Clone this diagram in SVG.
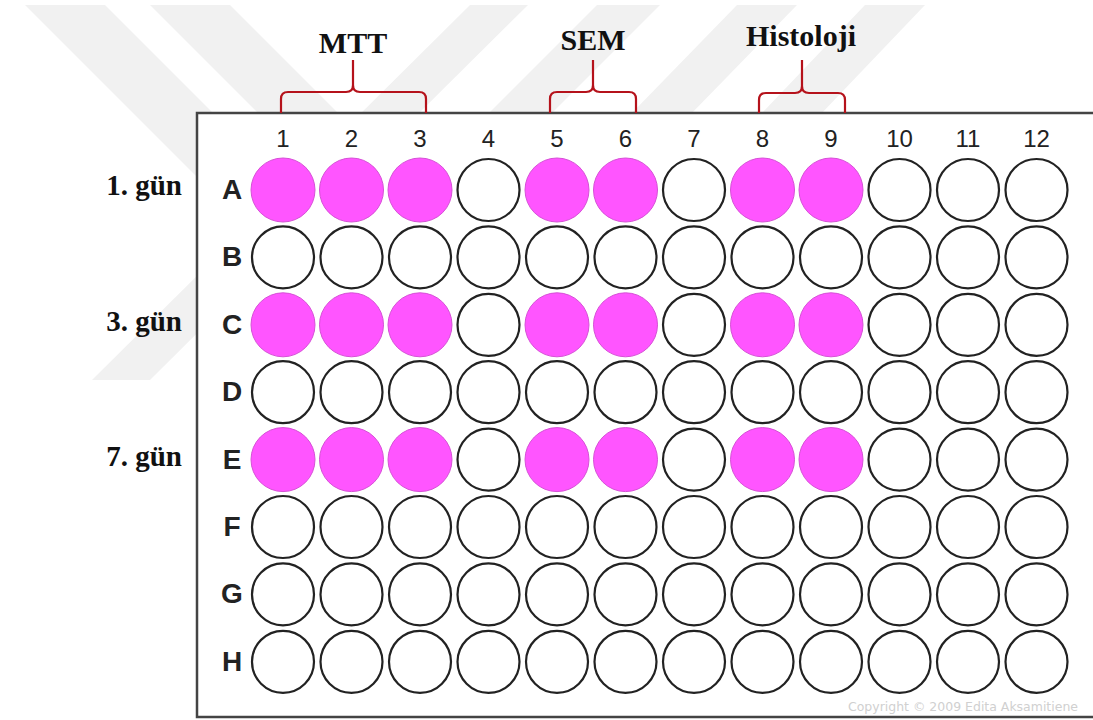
<svg xmlns="http://www.w3.org/2000/svg" width="1093" height="720" viewBox="0 0 1093 720">
<style>
.wm{fill:#f1f1f1}
.well{fill:#fff;stroke:#222;stroke-width:2.2}
.on{fill:#ff55ff;stroke:#d650d6;stroke-width:1}
.col{font-family:"Liberation Sans",Arial,sans-serif;font-size:24px;fill:#222;text-anchor:middle}
.row{font-family:"Liberation Sans",Arial,sans-serif;font-size:28px;font-weight:bold;fill:#222;text-anchor:middle}
.day{font-family:"Liberation Serif","Times New Roman",serif;font-size:29px;font-weight:bold;fill:#111;text-anchor:end}
.grp{font-family:"Liberation Serif","Times New Roman",serif;font-size:30px;font-weight:bold;fill:#111;text-anchor:middle}
.br{fill:none;stroke:#b5121b;stroke-width:2.2}
</style>
<rect width="1093" height="720" fill="#fff"/>
<g id="watermark">
<polygon class="wm" points="25,5 105,5 335,235 255,235"/>
<polygon class="wm" points="150,5 230,5 350,125 270,125"/>
<polygon class="wm" points="470,5 528,5 150,380 92,380"/>
<polygon class="wm" points="597,5 660,5 545,120 482,120"/>
<polygon class="wm" points="737,5 797,5 690,115 630,115"/>
<polygon class="wm" points="865,5 925,5 820,115 760,115"/>
</g>
<g id="plate">
<rect x="197" y="113" width="910" height="604" fill="#fff" stroke="#444" stroke-width="2.5"/>
</g>
<g id="brackets">
<path class="br" d="M281,113 V99 Q281,92 288,92 H346 Q353,92 353,85 V60 M353,85 Q353,92 360,92 H419 Q426,92 426,99 V113"/>
<path class="br" d="M550,113 V99 Q550,92 557,92 H586 Q593,92 593,85 V60 M593,85 Q593,92 600,92 H629 Q636,92 636,99 V113"/>
<path class="br" d="M759,113 V100 Q759,93 766,93 H795 Q802,93 802,86 V60 M802,86 Q802,93 809,93 H838 Q845,93 845,100 V113"/>
</g>
<g id="group-labels">
<text class="grp" x="353" y="53">MTT</text>
<text class="grp" x="593" y="50">SEM</text>
<text class="grp" x="801" y="46">Histoloji</text>
</g>
<g id="day-labels">
<text class="day" x="182" y="195">1. gün</text>
<text class="day" x="182" y="331">3. gün</text>
<text class="day" x="182" y="466">7. gün</text>
</g>
<g id="column-numbers">
<text class="col" x="283" y="147">1</text>
<text class="col" x="351.5" y="147">2</text>
<text class="col" x="420" y="147">3</text>
<text class="col" x="488.5" y="147">4</text>
<text class="col" x="557" y="147">5</text>
<text class="col" x="625.5" y="147">6</text>
<text class="col" x="694" y="147">7</text>
<text class="col" x="762.5" y="147">8</text>
<text class="col" x="831" y="147">9</text>
<text class="col" x="899.5" y="147">10</text>
<text class="col" x="968" y="147">11</text>
<text class="col" x="1036.5" y="147">12</text>
</g>
<g id="row-letters">
<text class="row" x="232" y="199">A</text>
<text class="row" x="232" y="266.4">B</text>
<text class="row" x="232" y="333.8">C</text>
<text class="row" x="232" y="401.2">D</text>
<text class="row" x="232" y="468.6">E</text>
<text class="row" x="232" y="536">F</text>
<text class="row" x="232" y="603.4">G</text>
<text class="row" x="232" y="670.8">H</text>
</g>
<defs>
<g id="emptyrow">
<circle class="well" cx="283" cy="0" r="31"/>
<circle class="well" cx="351.5" cy="0" r="31"/>
<circle class="well" cx="420" cy="0" r="31"/>
<circle class="well" cx="488.5" cy="0" r="31"/>
<circle class="well" cx="557" cy="0" r="31"/>
<circle class="well" cx="625.5" cy="0" r="31"/>
<circle class="well" cx="694" cy="0" r="31"/>
<circle class="well" cx="762.5" cy="0" r="31"/>
<circle class="well" cx="831" cy="0" r="31"/>
<circle class="well" cx="899.5" cy="0" r="31"/>
<circle class="well" cx="968" cy="0" r="31"/>
<circle class="well" cx="1036.5" cy="0" r="31"/>
</g>
<g id="fullrow">
<circle class="on" cx="283" cy="0" r="32"/>
<circle class="on" cx="351.5" cy="0" r="32"/>
<circle class="on" cx="420" cy="0" r="32"/>
<circle class="well" cx="488.5" cy="0" r="31"/>
<circle class="on" cx="557" cy="0" r="32"/>
<circle class="on" cx="625.5" cy="0" r="32"/>
<circle class="well" cx="694" cy="0" r="31"/>
<circle class="on" cx="762.5" cy="0" r="32"/>
<circle class="on" cx="831" cy="0" r="32"/>
<circle class="well" cx="899.5" cy="0" r="31"/>
<circle class="well" cx="968" cy="0" r="31"/>
<circle class="well" cx="1036.5" cy="0" r="31"/>
</g>
</defs>
<g id="wells">
<use href="#fullrow" y="190"/>
<use href="#emptyrow" y="257.4"/>
<use href="#fullrow" y="324.8"/>
<use href="#emptyrow" y="392.2"/>
<use href="#fullrow" y="459.6"/>
<use href="#emptyrow" y="527"/>
<use href="#emptyrow" y="594.4"/>
<use href="#emptyrow" y="661.8"/>
</g>
<text x="1078" y="711" font-family="'DejaVu Sans',Tahoma,sans-serif" font-size="12" fill="#d0d0d0" text-anchor="end" textLength="230" lengthAdjust="spacingAndGlyphs">Copyright © 2009 Edita Aksamitiene</text>
</svg>
